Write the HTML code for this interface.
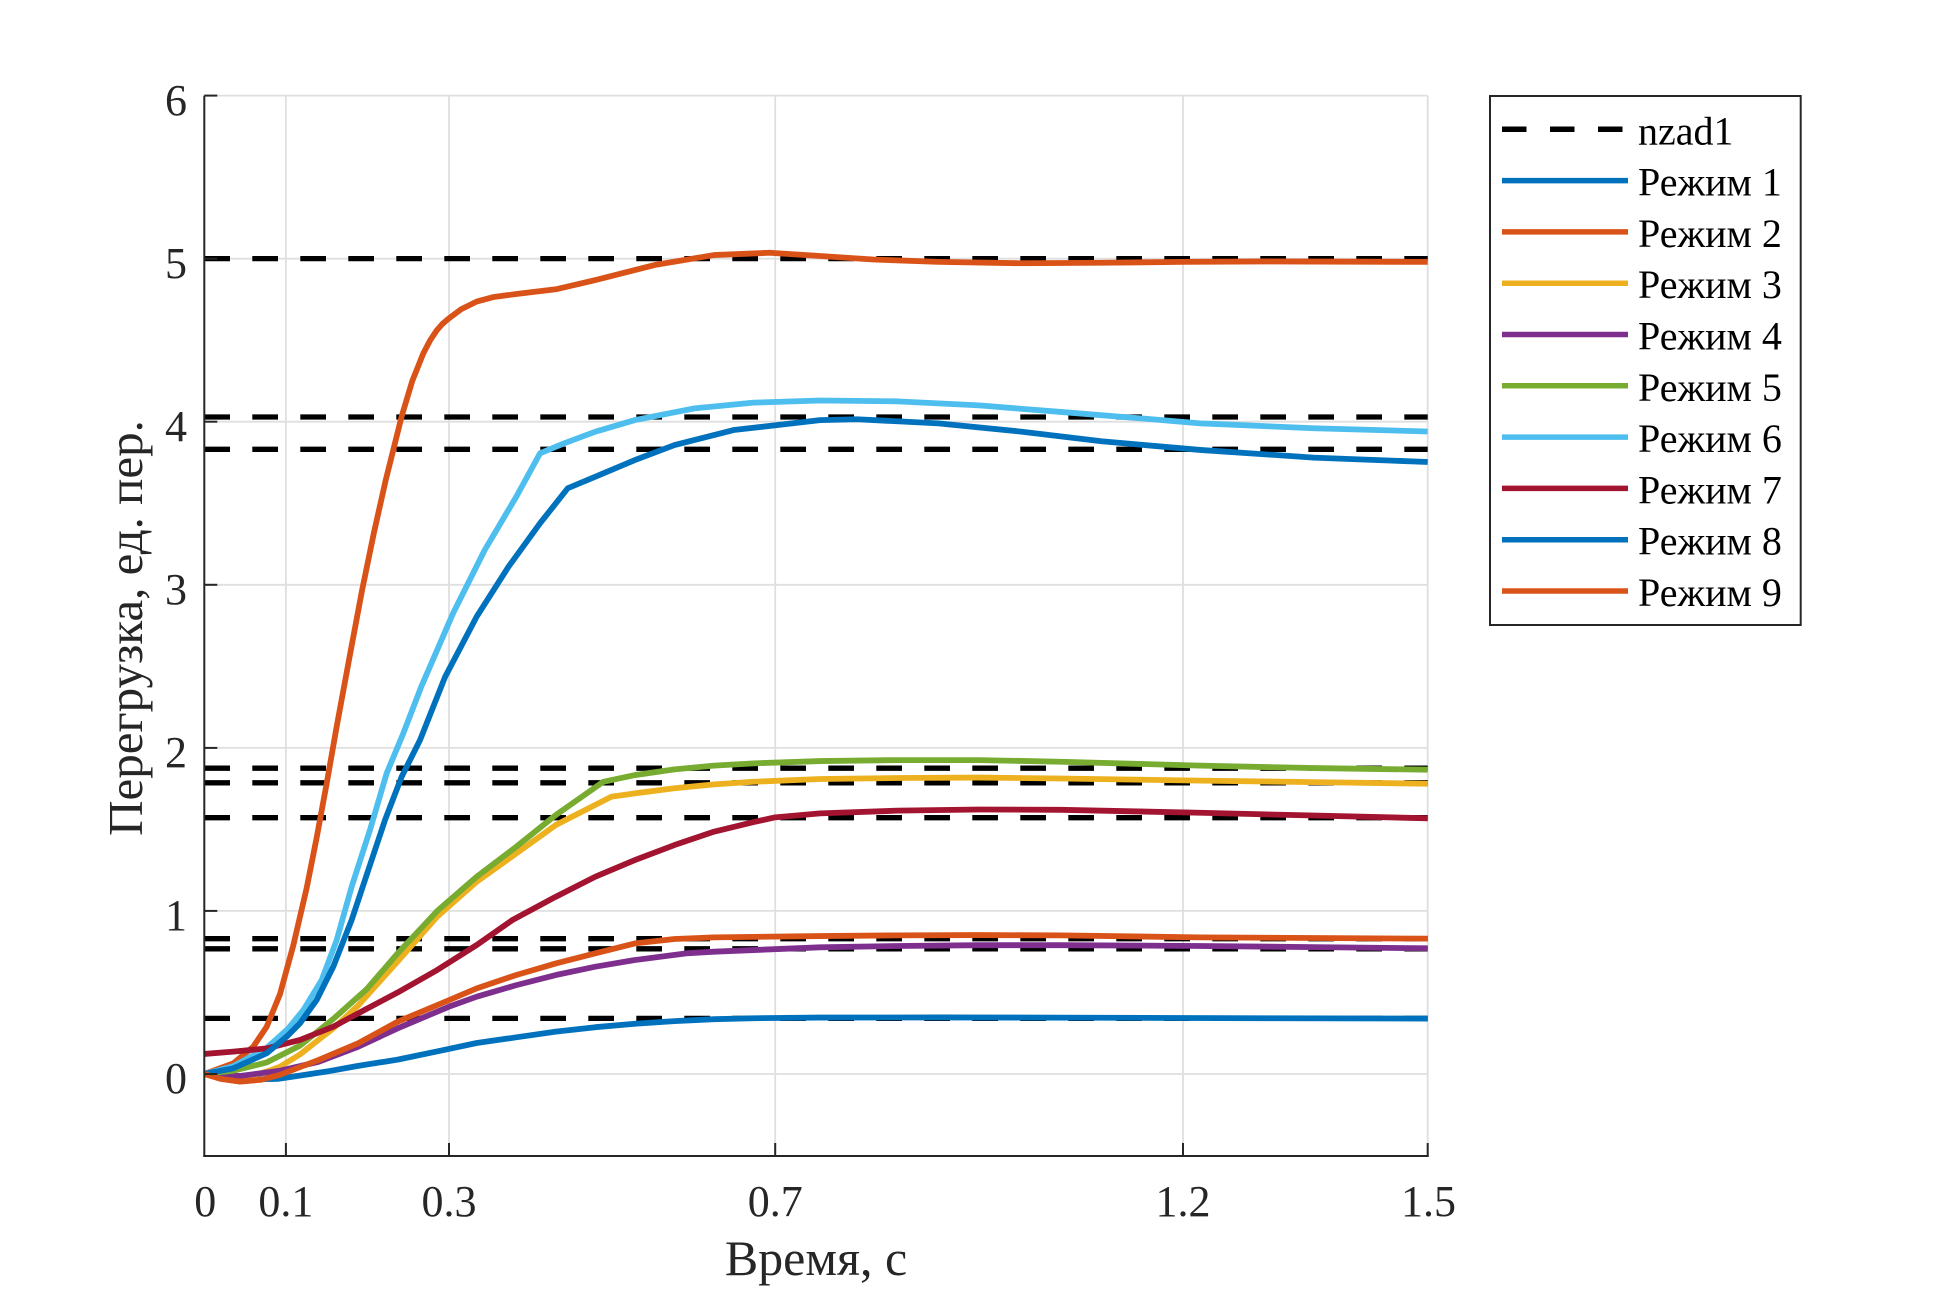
<!DOCTYPE html>
<html>
<head>
<meta charset="utf-8">
<style>
  html,body{margin:0;padding:0;background:#fff;}
  svg{display:block;}
  text{font-family:"Liberation Serif","Noto Serif CJK SC",serif;}
</style>
</head>
<body>
<svg width="1949" height="1299" viewBox="0 0 1949 1299" xmlns="http://www.w3.org/2000/svg">
  <rect x="0" y="0" width="1949" height="1299" fill="#ffffff"/>

  <!-- grid -->
  <g stroke="#dfdfdf" stroke-width="1.8" fill="none">
    <line x1="285.9" y1="95.6" x2="285.9" y2="1156"/>
    <line x1="449.0" y1="95.6" x2="449.0" y2="1156"/>
    <line x1="775.2" y1="95.6" x2="775.2" y2="1156"/>
    <line x1="1183.0" y1="95.6" x2="1183.0" y2="1156"/>
    <line x1="1427.7" y1="95.6" x2="1427.7" y2="1156"/>
    <line x1="204.3" y1="1074" x2="1427.7" y2="1074"/>
    <line x1="204.3" y1="910.9" x2="1427.7" y2="910.9"/>
    <line x1="204.3" y1="747.9" x2="1427.7" y2="747.9"/>
    <line x1="204.3" y1="584.8" x2="1427.7" y2="584.8"/>
    <line x1="204.3" y1="421.7" x2="1427.7" y2="421.7"/>
    <line x1="204.3" y1="258.7" x2="1427.7" y2="258.7"/>
    <line x1="204.3" y1="95.6" x2="1427.7" y2="95.6"/>
  </g>

  <!-- reference dashed lines (nzad1) -->
  <g stroke="#000" stroke-width="5.3" stroke-dasharray="25.7 22.3" fill="none">
    <line x1="204.3" y1="258.65" x2="1427.7" y2="258.65"/>
    <line x1="204.3" y1="417.0" x2="1427.7" y2="417.0"/>
    <line x1="204.3" y1="449.3" x2="1427.7" y2="449.3"/>
    <line x1="204.3" y1="768.2" x2="1427.7" y2="768.2"/>
    <line x1="204.3" y1="782.8" x2="1427.7" y2="782.8"/>
    <line x1="204.3" y1="817.7" x2="1427.7" y2="817.7"/>
    <line x1="204.3" y1="938.7" x2="1427.7" y2="938.7"/>
    <line x1="204.3" y1="948.8" x2="1427.7" y2="948.8"/>
    <line x1="204.3" y1="1018.4" x2="1427.7" y2="1018.4"/>
  </g>

  <!-- data curves in data coordinates -->
  <g transform="matrix(815.6 0 0 -163.07 204.3 1074)" fill="none" stroke-linejoin="round" stroke-linecap="butt">
    <!-- Режим 1 -->
    <polyline vector-effect="non-scaling-stroke" stroke="#0072BD" stroke-width="5.8"
      points="0,0 0.03,-0.02 0.06,-0.033 0.09,-0.03 0.117,-0.01 0.15,0.015 0.1886,0.05 0.2371,0.088 0.289,0.142 0.334,0.19 0.3826,0.225 0.431,0.26 0.4795,0.287 0.528,0.308 0.5765,0.324 0.625,0.336 0.6735,0.342 0.755,0.346 0.9,0.347 1.1,0.345 1.3,0.342 1.5,0.34"/>
    <!-- Режим 2 -->
    <polyline vector-effect="non-scaling-stroke" stroke="#D95319" stroke-width="5.8"
      points="0,0 0.0356,0.065 0.0601,0.168 0.0765,0.29 0.0928,0.49 0.1092,0.79 0.1255,1.14 0.1378,1.45 0.1501,1.783 0.1623,2.13 0.178,2.555 0.1935,2.968 0.208,3.32 0.2225,3.643 0.242,4.033 0.255,4.25 0.2686,4.42 0.277,4.5 0.285,4.56 0.292,4.6 0.3,4.634 0.315,4.69 0.334,4.737 0.355,4.765 0.3825,4.783 0.431,4.812 0.4795,4.869 0.552,4.961 0.625,5.022 0.693,5.036 0.755,5.016 0.82,4.995 0.9,4.98 1.0,4.972 1.1,4.975 1.2,4.98 1.3,4.983 1.5,4.98"/>
    <!-- Режим 3 -->
    <polyline vector-effect="non-scaling-stroke" stroke="#EDB120" stroke-width="5.8"
      points="0,0 0.02,-0.02 0.0356,-0.028 0.06,-0.01 0.0765,0.015 0.0928,0.045 0.1173,0.12 0.1402,0.21 0.1582,0.28 0.1886,0.42 0.2371,0.69 0.2856,0.965 0.334,1.179 0.3826,1.353 0.431,1.527 0.4989,1.7 0.528,1.721 0.5765,1.752 0.625,1.776 0.6735,1.792 0.755,1.809 0.85,1.815 0.95,1.818 1.05,1.812 1.221,1.799 1.36,1.79 1.5,1.78"/>
    <!-- Режим 4 -->
    <polyline vector-effect="non-scaling-stroke" stroke="#7E2F8E" stroke-width="5.8"
      points="0,0 0.02,-0.01 0.0438,-0.012 0.0928,0.02 0.1402,0.075 0.1886,0.167 0.2371,0.28 0.3,0.413 0.334,0.474 0.3826,0.545 0.431,0.607 0.4795,0.658 0.528,0.699 0.591,0.74 0.625,0.75 0.755,0.777 0.85,0.785 0.95,0.79 1.05,0.79 1.221,0.785 1.36,0.778 1.5,0.771"/>
    <!-- Режим 5 -->
    <polyline vector-effect="non-scaling-stroke" stroke="#77AC30" stroke-width="5.8"
      points="0,0 0.0356,0.02 0.0765,0.071 0.1173,0.174 0.1582,0.338 0.1991,0.52 0.2371,0.74 0.2856,1.0 0.334,1.21 0.3826,1.394 0.431,1.588 0.4892,1.792 0.528,1.833 0.5765,1.868 0.625,1.891 0.6735,1.905 0.755,1.919 0.85,1.925 0.95,1.925 1.05,1.915 1.221,1.891 1.36,1.876 1.5,1.866"/>
    <!-- Режим 6 -->
    <polyline vector-effect="non-scaling-stroke" stroke="#4DBEEE" stroke-width="5.8"
      points="0,0 0.0356,0.048 0.0765,0.16 0.103,0.279 0.1214,0.392 0.1439,0.576 0.1623,0.821 0.1807,1.149 0.2031,1.496 0.2236,1.844 0.244,2.089 0.266,2.375 0.305,2.825 0.3438,3.213 0.3825,3.54 0.4116,3.806 0.4408,3.867 0.4795,3.939 0.528,4.01 0.601,4.082 0.6735,4.117 0.755,4.13 0.85,4.125 0.95,4.1 1.05,4.06 1.15,4.02 1.221,3.99 1.36,3.96 1.5,3.94"/>
    <!-- Режим 7 -->
    <polyline vector-effect="non-scaling-stroke" stroke="#A2142F" stroke-width="5.8"
      points="0,0.123 0.0356,0.137 0.0765,0.157 0.1173,0.209 0.1582,0.29 0.1991,0.4 0.2371,0.5 0.2856,0.638 0.334,0.791 0.3777,0.944 0.431,1.087 0.4795,1.21 0.528,1.312 0.5765,1.404 0.625,1.486 0.6735,1.545 0.7,1.574 0.755,1.598 0.85,1.615 0.95,1.622 1.05,1.62 1.221,1.602 1.36,1.585 1.5,1.568"/>
    <!-- Режим 8 -->
    <polyline vector-effect="non-scaling-stroke" stroke="#0072BD" stroke-width="5.8"
      points="0,0 0.0356,0.035 0.0765,0.127 0.101,0.229 0.1173,0.311 0.1378,0.454 0.1582,0.659 0.1807,0.945 0.2011,1.251 0.2216,1.558 0.242,1.823 0.2645,2.048 0.2954,2.437 0.334,2.805 0.373,3.111 0.4116,3.377 0.4456,3.592 0.4795,3.663 0.528,3.765 0.5765,3.857 0.649,3.949 0.755,4.01 0.8,4.015 0.9,3.99 1.0,3.94 1.1,3.88 1.221,3.827 1.36,3.78 1.5,3.753"/>
    <!-- Режим 9 -->
    <polyline vector-effect="non-scaling-stroke" stroke="#D95319" stroke-width="5.8"
      points="0,0 0.02,-0.03 0.0438,-0.047 0.07,-0.035 0.0928,-0.005 0.1402,0.086 0.1886,0.188 0.2371,0.321 0.2953,0.443 0.334,0.525 0.3826,0.607 0.431,0.678 0.4795,0.74 0.528,0.801 0.5765,0.828 0.625,0.838 0.755,0.846 0.85,0.85 0.95,0.852 1.05,0.85 1.221,0.838 1.36,0.834 1.5,0.83"/>
  </g>

  <!-- axes lines -->
  <g stroke="#262626" stroke-width="2" fill="none">
    <line x1="204.3" y1="95.6" x2="204.3" y2="1157"/>
    <line x1="203.3" y1="1156" x2="1428.7" y2="1156"/>
    <!-- x ticks -->
    <line x1="285.9" y1="1156" x2="285.9" y2="1143"/>
    <line x1="449.0" y1="1156" x2="449.0" y2="1143"/>
    <line x1="775.2" y1="1156" x2="775.2" y2="1143"/>
    <line x1="1183.0" y1="1156" x2="1183.0" y2="1143"/>
    <line x1="1427.7" y1="1156" x2="1427.7" y2="1143"/>
    <!-- y ticks -->
    <line x1="204.3" y1="1074" x2="217.3" y2="1074"/>
    <line x1="204.3" y1="910.9" x2="217.3" y2="910.9"/>
    <line x1="204.3" y1="747.9" x2="217.3" y2="747.9"/>
    <line x1="204.3" y1="584.8" x2="217.3" y2="584.8"/>
    <line x1="204.3" y1="421.7" x2="217.3" y2="421.7"/>
    <line x1="204.3" y1="258.7" x2="217.3" y2="258.7"/>
    <line x1="204.3" y1="95.6" x2="217.3" y2="95.6"/>
  </g>

  <!-- tick labels -->
  <g fill="#262626" font-size="44">
    <text x="205.3" y="1216" text-anchor="middle">0</text>
    <text x="285.9" y="1216" text-anchor="middle">0.1</text>
    <text x="449.0" y="1216" text-anchor="middle">0.3</text>
    <text x="775.2" y="1216" text-anchor="middle">0.7</text>
    <text x="1183.0" y="1216" text-anchor="middle">1.2</text>
    <text x="1428.5" y="1216" text-anchor="middle">1.5</text>

    <text x="187" y="1093" text-anchor="end">0</text>
    <text x="187" y="930" text-anchor="end">1</text>
    <text x="187" y="767" text-anchor="end">2</text>
    <text x="187" y="604" text-anchor="end">3</text>
    <text x="187" y="441" text-anchor="end">4</text>
    <text x="187" y="278" text-anchor="end">5</text>
    <text x="187" y="115" text-anchor="end">6</text>
  </g>

  <!-- axis labels -->
  <text x="816" y="1275" text-anchor="middle" font-size="50" fill="#262626">Время, с</text>
  <text transform="translate(142,628) rotate(-90)" text-anchor="middle" font-size="49" fill="#262626">Перегрузка, ед. пер.</text>

  <!-- legend -->
  <rect x="1490" y="96" width="310.7" height="529" fill="#ffffff" stroke="#262626" stroke-width="2"/>
  <g fill="none" stroke-width="5.5">
    <line x1="1502" y1="129.3" x2="1623" y2="129.3" stroke="#000" stroke-dasharray="24.5 23.5"/>
    <line x1="1502" y1="180.6" x2="1628" y2="180.6" stroke="#0072BD"/>
    <line x1="1502" y1="231.9" x2="1628" y2="231.9" stroke="#D95319"/>
    <line x1="1502" y1="283.2" x2="1628" y2="283.2" stroke="#EDB120"/>
    <line x1="1502" y1="334.5" x2="1628" y2="334.5" stroke="#7E2F8E"/>
    <line x1="1502" y1="385.8" x2="1628" y2="385.8" stroke="#77AC30"/>
    <line x1="1502" y1="437.1" x2="1628" y2="437.1" stroke="#4DBEEE"/>
    <line x1="1502" y1="488.4" x2="1628" y2="488.4" stroke="#A2142F"/>
    <line x1="1502" y1="539.7" x2="1628" y2="539.7" stroke="#0072BD"/>
    <line x1="1502" y1="591.0" x2="1628" y2="591.0" stroke="#D95319"/>
  </g>
  <g fill="#000" font-size="40">
    <text x="1638" y="144.3">nzad1</text>
    <text x="1638" y="195.6">Режим 1</text>
    <text x="1638" y="246.9">Режим 2</text>
    <text x="1638" y="298.2">Режим 3</text>
    <text x="1638" y="349.5">Режим 4</text>
    <text x="1638" y="400.8">Режим 5</text>
    <text x="1638" y="452.1">Режим 6</text>
    <text x="1638" y="503.4">Режим 7</text>
    <text x="1638" y="554.7">Режим 8</text>
    <text x="1638" y="606.0">Режим 9</text>
  </g>
</svg>
</body>
</html>
